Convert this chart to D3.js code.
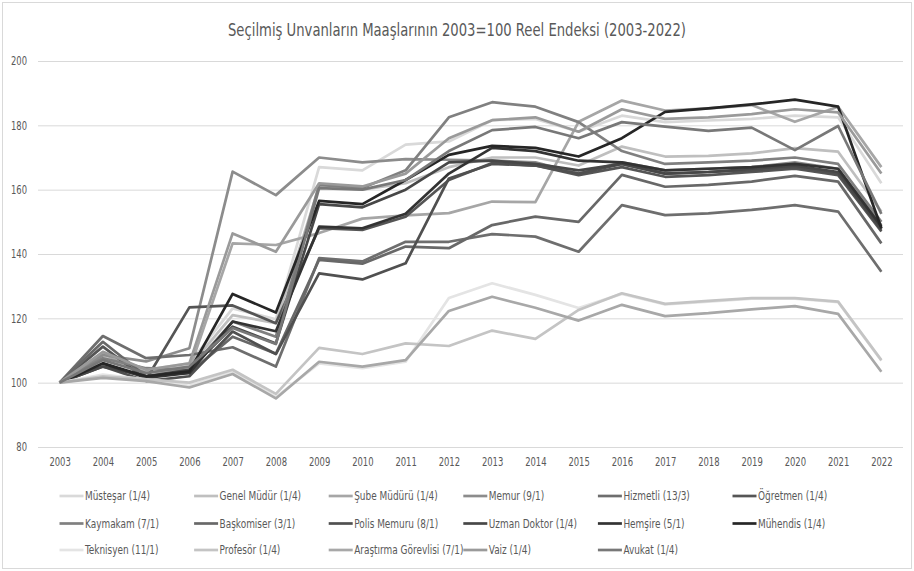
<!DOCTYPE html>
<html><head><meta charset="utf-8">
<script src="https://cdn.jsdelivr.net/npm/d3@7"></script>
<style>
html,body{margin:0;padding:0;background:#fff;}
svg text{font-family:"Liberation Sans Narrow","DejaVu Sans Condensed","DejaVu Sans",sans-serif;font-stretch:condensed;fill:#595959;}
</style></head><body>
<svg id="c" width="914" height="571"></svg>
<script>
const title = "Seçilmiş Unvanların Maaşlarının 2003=100 Reel Endeksi (2003-2022)";
const years = ["2003","2004","2005","2006","2007","2008","2009","2010","2011","2012","2013","2014","2015","2016","2017","2018","2019","2020","2021","2022"];
const yTicks = [80,100,120,140,160,180,200];

const names = ["Müsteşar (1/4)","Genel Müdür (1/4)","Şube Müdürü (1/4)","Memur (9/1)","Hizmetli (13/3)","Öğretmen (1/4)",
  "Kaymakam (7/1)","Başkomiser (3/1)","Polis Memuru (8/1)","Uzman Doktor (1/4)","Hemşire (5/1)","Mühendis (1/4)",
  "Teknisyen (11/1)","Profesör (1/4)","Araştırma Görevlisi (7/1)","Vaiz (1/4)","Avukat (1/4)"];
const colors = ["#d9d9d9","#bfbfbf","#a6a6a6","#8c8c8c","#6e6e6e","#555555",
  "#808080","#686868","#505050","#474747","#333333","#262626",
  "#e4e4e4","#c4c4c4","#a8a8a8","#9a9a9a","#787878"];

const musteSar   = [100,109,104,106,123.1,119.7,167,166,174,175,181.6,182,178,183,181,181.5,182,183,182.5,162];
const genelMudur = [100,108,103.5,105,121,118.5,161,160,162,167,170,170,167.5,173.4,170.3,170.5,171.3,172.9,171.8,153.2];
const subeMudur  = [100,109,103,104,143.3,142.8,146.5,151,152,152.7,156.3,156.1,181.1,187.7,184.6,185.3,186.3,181.1,185.8,167];
const memur      = [100,108.6,106.6,110.7,165.6,158.3,170,168.5,169.5,169.3,169,168.5,165,168.5,166,166.5,167,168.5,166.5,149];
const hizmetli   = [100,114.5,107.6,108.6,111,105,138.7,137.7,143.8,143.8,146.2,145.4,140.7,155.2,152.1,152.6,153.7,155.2,153.2,134.5];
const ogretmen   = [100,111.2,101,123.4,124,118.5,148,147.5,151.6,163,168.3,167.5,164.5,167,164,164.5,165.5,166.5,164.5,147];
const kaymakam   = [100,107.6,104.5,104,119,114.3,161.5,160.5,166,182.5,187.2,185.8,181,172,168,168.5,169,170,168,150];
const baskomiser = [100,112.7,102,103,114.3,109,138.2,137,142.3,141.8,149,151.6,150,164.6,160.9,161.5,162.5,164.3,162.5,143.3];
const polis      = [100,105,100.5,102,115.9,108.9,134,132.1,137.1,163.5,168,167.5,165,168,165,165.5,166,167,165,148];
const uzmanDr    = [100,105,102,104,117.4,112.2,155.5,154.5,160,168.5,169,168,166,168,165,165.5,166.5,167.5,165.5,147.5];
const hemsire    = [100,106,101.5,103,119,116,148.5,148,152.5,165,173,172,169,168.5,166,166.5,167,168,166.5,148.5];
const muhendis   = [100,106,102,103.5,127.6,121.8,156.5,155.5,163,170.8,173.6,173,170.3,176,184.2,185.3,186.5,188,185.8,148];
const teknisyen  = [100,102.5,101,99,103.5,95.5,106,104.5,106.5,126.3,130.9,127.3,123.2,127.6,124.3,125.2,126.1,126.1,125,106.8];
const profesor   = [100,102,101,100,104,96.5,110.8,108.9,112.2,111.4,116.2,113.6,122.6,127.8,124.5,125.4,126.3,126.3,125.2,107];
const arsGor     = [100,101.5,100.5,98.5,102.7,95.1,106.5,105,107,122.3,126.7,123.3,119.3,124.2,120.7,121.6,122.8,123.8,121.4,103.4];
const vaiz       = [100,109.6,104,106,146.4,140.7,162,161,165,176,181.6,182.5,178,185,182,182.5,183.5,185,184,165];
const avukat     = [100,107,103,105,117,112,160.5,160,163,172,178.5,179.5,176,181,179.6,178.3,179.3,172.3,179.8,152.5];

const seriesValues = [musteSar,genelMudur,subeMudur,memur,hizmetli,ogretmen,kaymakam,baskomiser,polis,uzmanDr,hemsire,muhendis,teknisyen,profesor,arsGor,vaiz,avukat];

const svg = d3.select("#c");
svg.append("rect").attr("x",2.5).attr("y",2.5).attr("width",909).attr("height",566)
  .attr("fill","#fff").attr("stroke","#d9d9d9");

const x = d3.scalePoint().domain(years).range([38,903]).padding(0.5);
const y = d3.scaleLinear().domain([80,200]).range([447,61]);

// helper: squeeze a group of texts horizontally so a reference string hits a target width
function squeeze(sel, refText, targetW){
  const probe = svg.append("text").style("font-size", sel.style("font-size")).text(refText);
  const k = targetW / probe.node().getComputedTextLength();
  probe.remove();
  sel.each(function(){
    const w = this.getComputedTextLength();
    d3.select(this).attr("textLength", (w*k).toFixed(2)).attr("lengthAdjust","spacingAndGlyphs");
  });
}

// gridlines
svg.append("g").selectAll("line").data(yTicks).join("line")
  .attr("x1",38).attr("x2",903).attr("y1",d=>y(d)+0.5).attr("y2",d=>y(d)+0.5)
  .attr("stroke","#d9d9d9").attr("stroke-width",1);

// y axis labels
const yAxis = svg.append("g").attr("transform","translate(27,0)")
  .call(d3.axisLeft(y).tickValues(yTicks).tickSize(0).tickPadding(0));
yAxis.select(".domain").remove();
yAxis.selectAll("text").style("font-size","11.5px").attr("fill","#595959");
squeeze(yAxis.selectAll("text"), "200", 16);

// x axis labels
const xAxis = svg.append("g").attr("transform","translate(0,458)")
  .call(d3.axisBottom(x).tickSize(0).tickPadding(0));
xAxis.select(".domain").remove();
xAxis.selectAll("text").style("font-size","11.5px").attr("fill","#595959");
squeeze(xAxis.selectAll("text"), "2003", 21.5);

// lines
const line = d3.line().x((d,i)=>x(years[i])).y(d=>y(d));
svg.append("g").selectAll("path").data(seriesValues).join("path")
  .attr("d",d=>line(d)).attr("fill","none")
  .attr("stroke",(d,i)=>colors[i]).attr("stroke-width",2.7)
  .attr("stroke-linejoin","round");

// title
const t = svg.append("text").attr("x",457).attr("y",36).attr("text-anchor","middle")
  .style("font-size","17.5px").text(title);
squeeze(t, title, 458);

// legend
const rows = [496,523.5,550];
const lg = svg.append("g");
names.forEach((n,i)=>{
  const col = i%6, row = Math.floor(i/6);
  const lx = 59.5 + col*134.6, ly = rows[row];
  lg.append("line").attr("x1",lx).attr("x2",lx+24).attr("y1",ly).attr("y2",ly)
    .attr("stroke",colors[i]).attr("stroke-width",2.7);
  lg.append("text").attr("class","lt").attr("x",lx+25.5).attr("y",ly+4).style("font-size","11.5px").text(n);
});
squeeze(lg.selectAll("text.lt"), "Müsteşar (1/4)", 65);
</script></body></html>
